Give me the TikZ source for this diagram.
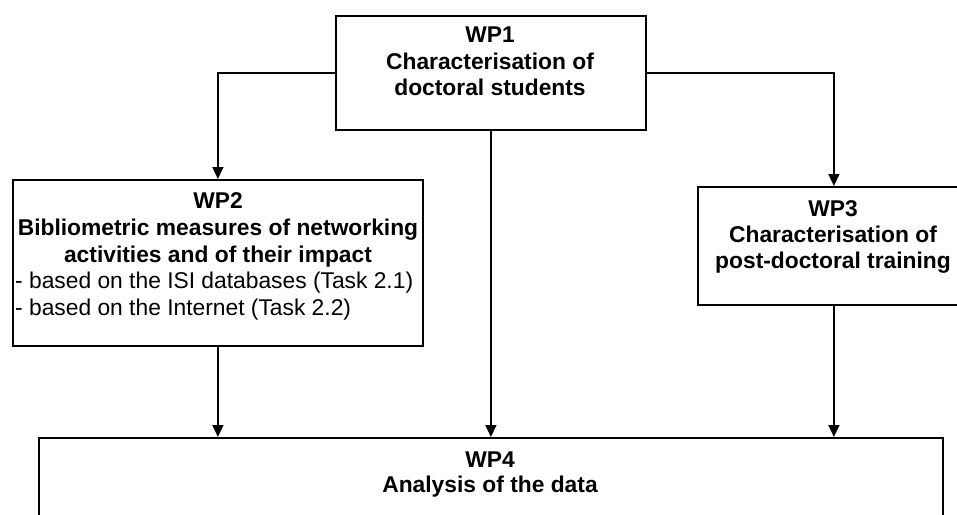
\documentclass[tikz,border=0pt]{standalone}
\usepackage{fontspec}
\setmainfont{Liberation Sans}
\usetikzlibrary{arrows.meta}
\begin{document}
\begin{tikzpicture}[x=1pt,y=-1pt,
  box/.style={draw, line width=1.8pt, inner sep=0pt, anchor=north west},
  lbl/.style={inner sep=0pt, anchor=north, align=center},
  conn/.style={line width=1.6pt, -{Triangle[length=12pt,width=11pt]}}
]
\useasboundingbox (0,0) rectangle (957,514);
\clip (0,0) rectangle (957,514);
% boxes
\node[box, minimum width=310pt, minimum height=114pt] (wp1) at (335,15) {};
\node[box, minimum width=410pt, minimum height=166pt] (wp2) at (12,179) {};
\node[box, minimum width=272pt, minimum height=118pt] (wp3) at (697,186) {};
\node[box, minimum width=904pt, minimum height=120pt] (wp4) at (38,437) {};
% texts
\node[lbl, font=\fontsize{22.8}{26.5}\selectfont\bfseries] (t1) at (490,27)
  {WP1\\Characterisation of\\doctoral students};
\node[lbl, font=\fontsize{22.8}{27}\selectfont\bfseries] (t2) at (218,192)
  {WP2\\Bibliometric measures of networking\\activities and of their impact};
\node[inner sep=0pt, anchor=north west, align=left, font=\fontsize{22.8}{27}\selectfont] (t2b) at (15,272)
  {- based on the ISI databases (Task 2.1)\\- based on the Internet (Task 2.2)};
\node[lbl, font=\fontsize{22.8}{26}\selectfont\bfseries] (t3) at (833,200)
  {WP3\\Characterisation of\\post-doctoral training};
\node[lbl, font=\fontsize{22.8}{25}\selectfont\bfseries] (t4) at (490,452)
  {WP4\\Analysis of the data};
% connectors
\draw[conn] (wp1.west) -| (wp2.north);
\draw[conn] (wp1.east) -| (wp3.north);
\draw[conn] (wp1.south) -- (wp1.south |- wp4.north);
\draw[conn] (wp2.south) -- (wp2.south |- wp4.north);
\draw[conn] (wp3.south) -- (wp3.south |- wp4.north);
\end{tikzpicture}
\end{document}
